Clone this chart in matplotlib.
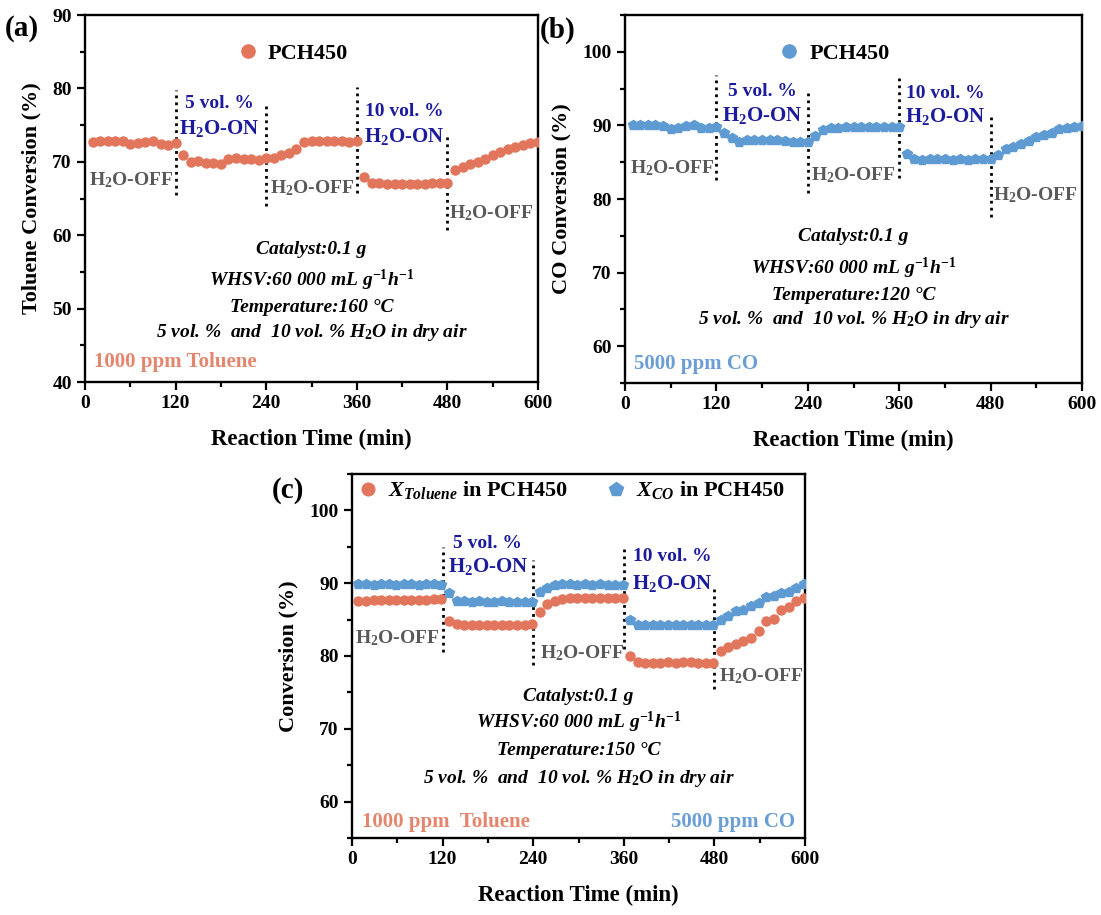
import numpy as np
import matplotlib
matplotlib.use("Agg")
import matplotlib.pyplot as plt
from matplotlib.ticker import MultipleLocator

plt.rcParams['font.family'] = ['Liberation Serif', 'DejaVu Serif']
plt.rcParams['font.weight'] = 'bold'
plt.rcParams['mathtext.fontset'] = 'custom'
plt.rcParams['mathtext.rm'] = 'Liberation Serif:bold'
plt.rcParams['mathtext.it'] = 'Liberation Serif:italic:bold'
plt.rcParams['mathtext.bf'] = 'Liberation Serif:bold'

# ---------------- data ----------------
time = np.arange(10, 601, 10)

tol_a = [72.7, 72.8, 72.9, 72.9, 72.85, 72.4, 72.5, 72.65, 72.85, 72.45, 72.35, 72.5,
         70.9, 70.0, 70.05, 69.9, 69.9, 69.75, 70.35, 70.45, 70.4, 70.35, 70.3, 70.45,
         70.5, 70.9, 71.2, 71.8, 72.65, 72.85, 72.8, 72.8, 72.8, 72.8, 72.75, 72.8,
         67.95, 67.1, 67.05, 67.0, 67.0, 67.0, 67.0, 67.0, 67.0, 67.05, 67.05, 67.05,
         68.9, 69.3, 69.65, 69.95, 70.35, 70.95, 71.35, 71.7, 71.95, 72.25, 72.5, 72.75]

co_b = [90.0, 90.1, 90.0, 90.0, 89.9, 89.5, 89.6, 89.9, 90.1, 89.7, 89.7, 89.8,
        88.9, 88.25, 87.8, 87.95, 87.95, 88.0, 87.95, 87.95, 87.9, 87.8, 87.7, 87.8,
        88.55, 89.4, 89.6, 89.7, 89.85, 89.85, 89.85, 89.85, 89.85, 89.85, 89.85, 89.85,
        86.1, 85.4, 85.35, 85.4, 85.45, 85.4, 85.25, 85.5, 85.35, 85.4, 85.45, 85.5,
        86.0, 86.75, 87.1, 87.45, 87.9, 88.45, 88.7, 89.0, 89.45, 89.7, 89.85, 89.9]

tol_c = [87.5, 87.6, 87.7, 87.7, 87.7, 87.7, 87.75, 87.7, 87.7, 87.75, 87.8, 87.8,
         84.75, 84.35, 84.3, 84.3, 84.3, 84.3, 84.3, 84.3, 84.3, 84.3, 84.3, 84.35,
         86.05, 87.1, 87.6, 87.85, 87.9, 87.9, 87.9, 87.9, 87.9, 87.9, 87.9, 87.9,
         79.95, 79.2, 79.1, 79.1, 79.1, 79.15, 79.1, 79.2, 79.15, 79.1, 79.05, 79.1,
         80.7, 81.2, 81.6, 82.05, 82.5, 83.5, 84.75, 85.15, 86.35, 86.7, 87.5, 87.95]

co_c = [89.85, 89.85, 89.8, 89.85, 89.85, 89.8, 89.85, 89.85, 89.8, 89.85, 89.85, 89.8,
        88.65, 87.5, 87.5, 87.45, 87.5, 87.45, 87.45, 87.5, 87.45, 87.45, 87.4, 87.45,
        88.75, 89.3, 89.7, 89.85, 89.85, 89.8, 89.85, 89.8, 89.85, 89.8, 89.8, 89.75,
        84.95, 84.3, 84.25, 84.3, 84.25, 84.25, 84.3, 84.25, 84.3, 84.25, 84.25, 84.3,
        84.9, 85.45, 86.15, 86.35, 86.8, 87.25, 88.05, 88.3, 88.65, 88.85, 89.3, 89.85]

switch_times = [120, 240, 360, 480]
dots_a = [(65.5, 79.8), (64.0, 78.1), (65.7, 80.2), (60.7, 73.5)]
dots_b = [(82.6, 96.9), (80.8, 95.0), (82.8, 96.9), (77.6, 91.6)]
dots_c = [(80.5, 95.0), (78.8, 93.2), (80.9, 95.2), (75.5, 89.8)]

xticks = [0, 120, 240, 360, 480, 600]

ORANGE = '#E2765C'
BLUE = '#5F9BD3'
NAVY = '#1B1B9C'
GREY = '#595959'
ORANGE_TXT = '#E4866D'
BLUE_TXT = '#6A9ED4'

fig = plt.figure(figsize=(11.01, 9.15), dpi=100)
W, H = 1101, 915


def add_ax(l, r, t, b):
    return fig.add_axes([l / W, 1 - b / H, (r - l) / W, (b - t) / H])


def style(ax, ylim, yticks):
    ax.set_xlim(0, 600)
    ax.set_ylim(*ylim)
    ax.set_xticks(xticks)
    ax.set_yticks(yticks)
    ax.xaxis.set_minor_locator(MultipleLocator(60))
    ax.yaxis.set_minor_locator(MultipleLocator(5))
    ax.tick_params(which='both', direction='out', top=False, right=False,
                   width=1.6, labelsize=14)
    ax.tick_params(which='major', length=6)
    ax.tick_params(which='minor', length=3.5)
    for s in ax.spines.values():
        s.set_linewidth(1.7)
    for lab in ax.get_xticklabels() + ax.get_yticklabels():
        lab.set_fontweight('bold')
    ax.set_xlabel('Reaction Time (min)', fontsize=16.5, fontweight='bold', labelpad=12)


def dotted(ax, spans):
    for t, (y0, y1) in zip(switch_times, spans):
        ax.plot([t, t], [y0, y1], color='black', linestyle=(0, (1, 1.5)), lw=2, zorder=1)


def water_labels(ax, on_pos, off_pos):
    (x1, y1a, y1b), (x2, y2a, y2b) = on_pos
    ax.text(x1, y1a, '5 vol. %', color=NAVY, fontsize=14, ha='center', va='center', fontweight='bold')
    ax.text(x1, y1b, r'H$_2$O-ON', color=NAVY, fontsize=15, ha='center', va='center', fontweight='bold')
    ax.text(x2, y2a, '10 vol. %', color=NAVY, fontsize=14, ha='center', va='center', fontweight='bold')
    ax.text(x2, y2b, r'H$_2$O-ON', color=NAVY, fontsize=15, ha='center', va='center', fontweight='bold')
    for (x, y) in off_pos:
        ax.text(x, y, r'H$_2$O-OFF', color=GREY, fontsize=14, ha='center', va='center', fontweight='bold')


def conditions(ax, ys, temp):
    lines = ['Catalyst:0.1 g',
             r'WHSV:60 000 mL g$^{\mathit{-1}}$h$^{\mathit{-1}}$',
             'Temperature:%d °C' % temp,
             r'5 vol. %  and  10 vol. % H$_{\mathit{2}}$O in dry air']
    for y, s in zip(ys, lines):
        ax.text(300, y, s, fontsize=14, style='italic', fontweight='bold',
                ha='center', va='center', color='black')


# ---------------- panel (a) ----------------
ax1 = add_ax(85, 538, 15, 382)
style(ax1, (40, 90), [40, 50, 60, 70, 80, 90])
dotted(ax1, dots_a)
ax1.plot(time, tol_a, 'o', color=ORANGE, ms=6.5, mec=ORANGE, zorder=3)
ax1.set_ylabel('Toluene Conversion (%)', fontsize=16, fontweight='bold', labelpad=8)
water_labels(ax1, [(178, 77.9, 74.6), (423, 76.9, 73.4)], [(61, 67.5), (301, 66.4), (538, 63.0)])
conditions(ax1, [58.0, 53.9, 50.2, 46.8], 160)
ax1.text(12, 42.7, '1000 ppm Toluene', color=ORANGE_TXT, fontsize=15, fontweight='bold', va='center')
ha = ax1.plot([], [], 'o', color=ORANGE, ms=9.5)[0]
ax1.legend([ha], ['PCH450'], loc='center left', bbox_to_anchor=(0.33, 0.895), frameon=False,
           fontsize=16, handletextpad=0.3, handlelength=1.2, borderaxespad=0, borderpad=0)
fig.text(5 / W, 1 - 28 / H, '(a)', fontsize=21, fontweight='bold', va='center')

# ---------------- panel (b) ----------------
ax2 = add_ax(625, 1082, 15, 383)
style(ax2, (55, 105), [60, 70, 80, 90, 100])
dotted(ax2, dots_b)
ax2.plot(time, co_b, 'p', color=BLUE, ms=7.5, mec=BLUE, zorder=3)
ax2.set_ylabel('CO Conversion (%)', fontsize=16, fontweight='bold', labelpad=8)
water_labels(ax2, [(180, 94.6, 91.4), (420, 94.4, 91.2)], [(62, 84.2), (300, 83.3), (538, 80.5)])
conditions(ax2, [74.9, 70.6, 66.9, 63.6], 120)
ax2.text(12, 57.6, '5000 ppm CO', color=BLUE_TXT, fontsize=15, fontweight='bold', va='center')
hb = ax2.plot([], [], 'o', color=BLUE, ms=9.5)[0]
ax2.legend([hb], ['PCH450'], loc='center left', bbox_to_anchor=(0.33, 0.895), frameon=False,
           fontsize=16, handletextpad=0.3, handlelength=1.2, borderaxespad=0, borderpad=0)
fig.text(540 / W, 1 - 30 / H, '(b)', fontsize=21, fontweight='bold', va='center')

# ---------------- panel (c) ----------------
ax3 = add_ax(352, 805, 474, 838)
style(ax3, (55, 105), [60, 70, 80, 90, 100])
dotted(ax3, dots_c)
ax3.plot(time - 1.5, tol_c, 'o', color=ORANGE, ms=6.5, mec=ORANGE,
         label=r'$X_{Toluene}$ in PCH450', zorder=3)
ax3.plot(time - 1.5, co_c, 'p', color=BLUE, ms=7.5, mec=BLUE,
         label=r'$X_{CO}$ in PCH450', zorder=3)
ax3.set_ylabel('Conversion (%)', fontsize=16, fontweight='bold', labelpad=8)
water_labels(ax3, [(180, 95.5, 92.3), (424, 93.6, 90.0)], [(60, 82.5), (305, 80.45), (542, 77.3)])
conditions(ax3, [74.5, 70.9, 67.0, 63.2], 150)
ax3.text(13, 57.2, '1000 ppm  Toluene', color=ORANGE_TXT, fontsize=15, fontweight='bold', va='center')
ax3.text(587, 57.2, '5000 ppm CO', color=BLUE_TXT, fontsize=15, fontweight='bold', va='center', ha='right')
ax3.legend(loc='center left', bbox_to_anchor=(0.005, 0.955), ncol=2, frameon=False, fontsize=16,
           handletextpad=0.3, handlelength=1.2, columnspacing=1.6, markerscale=1.4,
           borderaxespad=0, borderpad=0)
fig.text(272 / W, 1 - 490 / H, '(c)', fontsize=21, fontweight='bold', va='center')

fig.savefig('out.png', dpi=100)
